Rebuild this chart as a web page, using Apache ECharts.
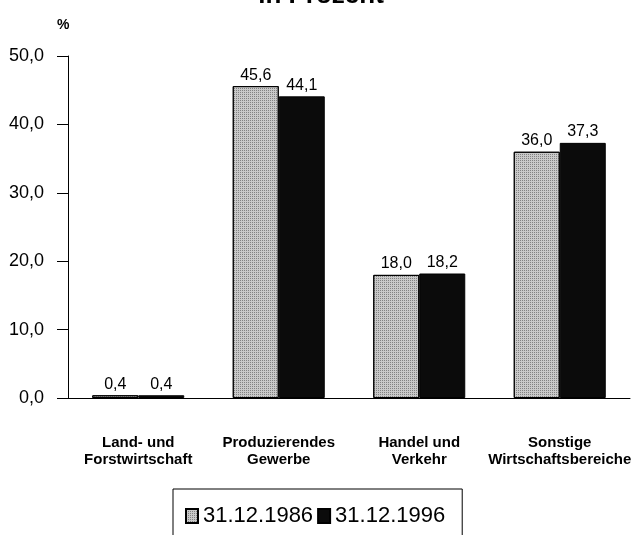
<!DOCTYPE html>
<html>
<head>
<meta charset="utf-8">
<script src="https://cdn.jsdelivr.net/npm/echarts@6/dist/echarts.min.js"></script>
<style>
  html, body { margin: 0; padding: 0; background: #fff; }
  #chart { width: 642px; height: 535px; }
</style>
</head>
<body>
<div id="chart"></div>
<script>
// Wirtschaftsbereiche
var categories = ['Land- und\nForstwirtschaft', 'Produzierendes\nGewerbe', 'Handel und\nVerkehr', 'Sonstige\nWirtschaftsbereiche'];
var seriesNames = ['31.12.1986', '31.12.1996'];
var values1986 = [0.4, 45.6, 18.0, 36.0];
var values1996 = [0.4, 44.1, 18.2, 37.3];

var FONT = 'Liberation Sans';

// Komma statt Punkt
function deNum(v) {
  return Number(v).toFixed(1).replace('.', ',');
}

var chart = echarts.init(document.getElementById('chart'));

var option = {
  animation: false,
  backgroundColor: '#fff',
  textStyle: { fontFamily: FONT, color: '#000' },
  title: {
    text: 'in Prozent',
    left: 'center',
    top: -17,
    padding: 0,
    textStyle: { fontFamily: FONT, fontSize: 26, fontWeight: 'bold', color: '#000' }
  },
  graphic: [{
    type: 'text',
    left: 57,
    top: 18,
    style: { text: '%', font: 'bold 14px "Liberation Sans"', fill: '#000' }
  }],
  legend: {
    data: seriesNames,
    left: 173,
    top: 489,
    padding: [16, 17, 40, 12],
    borderColor: '#000',
    borderWidth: 1,
    borderRadius: 0,
    itemWidth: 12,
    itemHeight: 14,
    itemGap: 4,
    icon: 'rect',
    textStyle: { fontFamily: FONT, fontSize: 22, color: '#000' }
  },
  grid: { left: 68, right: 12, top: 56, bottom: 137 },
  xAxis: {
    type: 'category',
    data: categories,
    axisLine: { lineStyle: { color: '#000', width: 1 } },
    axisTick: { show: false },
    axisLabel: {
      interval: 0,
      margin: 36,
      fontFamily: FONT,
      fontSize: 15,
      fontWeight: 'bold',
      lineHeight: 17,
      color: '#000'
    }
  },
  yAxis: {
    type: 'value',
    min: 0,
    max: 50,
    interval: 10,
    axisLine: { show: true, lineStyle: { color: '#000', width: 1 } },
    axisTick: { show: true, length: 11, lineStyle: { color: '#000' } },
    splitLine: { show: false },
    axisLabel: {
      margin: 24,
      fontFamily: FONT,
      fontSize: 18,
      color: '#000',
      formatter: function (v) { return deNum(v); }
    }
  },
  series: [{
    name: seriesNames[0],
    type: 'bar',
    data: values1986,
    barWidth: 46,
    barGap: '0%',
    itemStyle: {
      color: '#c9c9c9',
      borderColor: '#000',
      borderWidth: 1,
      decal: {
        symbol: 'rect',
        symbolSize: 1,
        dashArrayX: [1, 1],
        dashArrayY: [1, 1],
        color: 'rgba(60,60,60,0.5)'
      }
    },
    label: {
      show: true,
      position: 'top',
      distance: 3,
      fontFamily: FONT,
      fontSize: 16,
      color: '#000',
      formatter: function (p) { return deNum(p.value); }
    }
  }, {
    name: seriesNames[1],
    type: 'bar',
    data: values1996,
    barWidth: 46,
    barGap: '0%',
    itemStyle: { color: '#0b0b0b', borderColor: '#000', borderWidth: 1 },
    label: {
      show: true,
      position: 'top',
      distance: 3,
      fontFamily: FONT,
      fontSize: 16,
      color: '#000',
      formatter: function (p) { return deNum(p.value); }
    }
  }]
};

chart.setOption(option);
</script>
</body>
</html>
